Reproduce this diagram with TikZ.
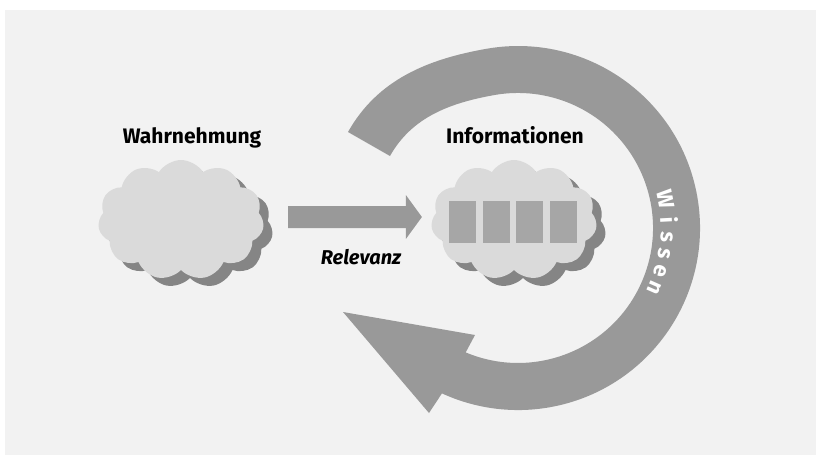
\documentclass[tikz,border=0pt]{standalone}
\usepackage{fontspec}
\setmainfont{Fira Sans}
\usepackage{xcolor}
\usetikzlibrary{shapes.symbols,shadows,arrows.meta,calc,positioning}

\definecolor{panelgray}{HTML}{F2F2F2}
\definecolor{arcgray}{HTML}{999999}
\definecolor{cloudgray}{HTML}{DADADA}
\definecolor{shadowgray}{HTML}{858585}
\definecolor{boxgray}{HTML}{A6A6A6}

\begin{document}
\begin{tikzpicture}[
  x=1pt, y=-1pt,
  cloudbox/.style={
    cloud,
    cloud puffs=11,
    cloud puff arc=115,
    aspect=1.4,
    minimum width=166pt,
    minimum height=120pt,
    fill=cloudgray,
    drop shadow={
      shadow xshift=9pt,
      shadow yshift=-8pt,
      fill=shadowgray,
      opacity=1
    }
  },
  infobox/.style={
    fill=boxgray,
    minimum width=27pt,
    minimum height=42pt,
    inner sep=0pt
  },
  heading/.style={
    anchor=base,
    font=\bfseries\fontsize{21}{25}\selectfont
  },
  relarrow/.style={
    arcgray,
    line width=22pt,
    -{Triangle[length=16pt,width=43pt]},
    shorten <=25pt,
    shorten >=10pt
  },
  letter/.style={
    anchor=base,
    inner sep=0pt,
    text=white,
    font=\bfseries\fontsize{22}{25}\selectfont
  }
]
  \useasboundingbox (0,0) rectangle (822,459);
  \fill[white] (0,0) rectangle (822,459);
  \fill[panelgray] (5,10) rectangle (816,455);

  % the loop of knowledge
  \coordinate (hub) at (518,228);
  \fill[arcgray] (348,132)
    .. controls (377.4,79.8) and (427.3,59.2) .. (486.4,48.8)
    arc[start angle=-100, end angle=114.7, radius=182]
    -- (429,413) -- (343,312) -- (475,335)
    -- (465.7,352.4)
    arc[start angle=112.8, end angle=-100, radius=135]
    .. controls (450.3,102.9) and (412,116.9) .. (390,156)
    -- cycle;
  \foreach \ch/\ang in {W/-11,i/-3,s/3.5,s/10,e/16.7,n/23.7}
    \node[letter, rotate=-\ang-90] at ($(hub)+(\ang:143)$) {\ch};

  % clouds
  \node[cloudbox] (wahr) at (181,220) {};
  \node[cloudbox] (info) at (514,220) {};
  \foreach \i in {0,...,3}
    \node[infobox] (box\i) at (462.5+33.7*\i,222) {};

  \node[heading] (wahrlabel) at (192,143) {Wahrnehmung};
  \node[heading] (infolabel) at (515,143) {Informationen};

  \draw[relarrow] ([yshift=3pt]wahr.east) -- ([yshift=3pt]info.west);
  \node[heading, font=\bfseries\itshape\fontsize{20}{24}\selectfont]
    (relevanz) at (361,264) {Relevanz};
\end{tikzpicture}
\end{document}
